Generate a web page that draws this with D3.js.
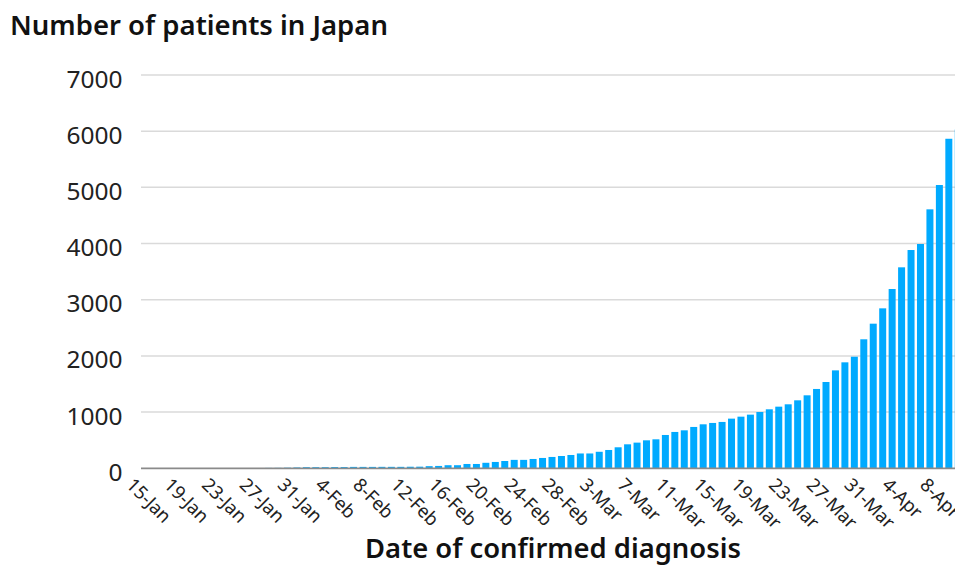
<!DOCTYPE html>
<html>
<head>
<meta charset="utf-8">
<script src="https://cdn.jsdelivr.net/npm/d3@7"></script>
<style>
  html, body { margin: 0; padding: 0; background: #ffffff; }
  svg { display: block; }
  text { font-family: "Noto Sans", "Open Sans", sans-serif; }
</style>
</head>
<body>
<svg id="chart" width="955" height="565"></svg>
<script>
// ---- data ----
const startDate = "2020-01-15";
const endDate = "2020-04-10";
const patients = [
  1, 1, 1, 1, 1, 1, 1, 1, 1, 2, 3, 4, 4, 7, 8, 11, 15,
  20, 20, 20, 22, 22, 25, 25, 25, 26, 26, 26, 28, 29,
  38, 42, 55, 55, 77, 77, 98, 113, 130, 150, 150, 166, 184, 202, 219, 237,
  264, 264, 294, 326, 374, 427, 457, 498, 516, 593, 647, 676, 736, 783,
  807, 825, 884, 919, 955, 1002, 1050, 1097, 1139, 1210, 1299, 1412, 1536,
  1743, 1886, 1986, 2296, 2574, 2847, 3191, 3577, 3885, 3992, 4609, 5042,
  5865, 6030
];
const xTickLabels = ["15-Jan","19-Jan","23-Jan","27-Jan","31-Jan","4-Feb","8-Feb","12-Feb",
  "16-Feb","20-Feb","24-Feb","28-Feb","3-Mar","7-Mar","11-Mar","15-Mar","19-Mar","23-Mar",
  "27-Mar","31-Mar","4-Apr","8-Apr"];
const yTicks = [0, 1000, 2000, 3000, 4000, 5000, 6000, 7000];
const titleText = "Number of patients in Japan";
const xTitleText = "Date of confirmed diagnosis";

// ---- categories ----
const parse = d3.timeParse("%Y-%m-%d");
const fmt = d3.timeFormat("%-d-%b");
const days = d3.timeDay.range(parse(startDate), d3.timeDay.offset(parse(endDate), 1));
const categories = days.map(fmt);
const data = categories.map((c, i) => ({ cat: c, value: patients[i] }));

// ---- layout ----
const svg = d3.select("#chart");
const x = d3.scaleBand().domain(categories).range([141, 963]).paddingInner(0.26).paddingOuter(0.13);
const y = d3.scaleLinear().domain([0, 7000]).range([468.3, 75]);

function fitText(sel, targetWidth) {
  const node = sel.node();
  const fs = parseFloat(sel.attr("font-size"));
  const w = node.getComputedTextLength();
  sel.attr("font-size", (fs * targetWidth / w).toFixed(2));
}

// gridlines
svg.append("g").selectAll("line").data(yTicks.filter(d => d > 0)).join("line")
  .attr("x1", 141).attr("x2", 955)
  .attr("y1", d => y(d)).attr("y2", d => y(d))
  .attr("stroke", "#dadada").attr("stroke-width", 1.5);

// y labels
const yl = svg.append("g").selectAll("text").data(yTicks).join("text")
  .attr("x", 122.5).attr("y", d => y(d) + 3)
  .attr("text-anchor", "end").attr("dominant-baseline", "central")
  .attr("font-size", 20).attr("fill", "#222")
  .text(d => d);
const yTop = yl.filter(d => d === 7000);
const yfs = 20 * 56 / yTop.node().getComputedTextLength();
yl.attr("font-size", yfs.toFixed(2));

// bars
svg.append("g").selectAll("rect").data(data).join("rect")
  .attr("x", d => x(d.cat))
  .attr("width", x.bandwidth())
  .attr("y", d => y(d.value))
  .attr("height", d => y(0) - y(d.value))
  .attr("fill", "#00aaff");

// x axis line
svg.append("line")
  .attr("x1", 141).attr("x2", 955)
  .attr("y1", y(0)).attr("y2", y(0))
  .attr("stroke", "#8a8a8a").attr("stroke-width", 1.8);

// x tick labels
const xl = svg.append("g").selectAll("text").data(xTickLabels).join("text")
  .attr("transform", d => `translate(${x(d) + x.bandwidth() / 2 - 20.5},486) rotate(45)`)
  .attr("text-anchor", "start")
  .attr("font-size", 16).attr("fill", "#222")
  .text(d => d);
const xFirst = xl.filter(d => d === "15-Jan");
const xfs = 16 * 54 / xFirst.node().getComputedTextLength();
xl.attr("font-size", xfs.toFixed(2));

// title
const t = svg.append("text").attr("x", 10).attr("y", 35)
  .attr("font-size", 25).attr("font-weight", 600).attr("fill", "#111")
  .text(titleText);
fitText(t, 378);

// x title
const xt = svg.append("text").attr("x", 553).attr("y", 558)
  .attr("text-anchor", "middle")
  .attr("font-size", 26).attr("font-weight", 600).attr("fill", "#111")
  .text(xTitleText);
fitText(xt, 376);
</script>
</body>
</html>
